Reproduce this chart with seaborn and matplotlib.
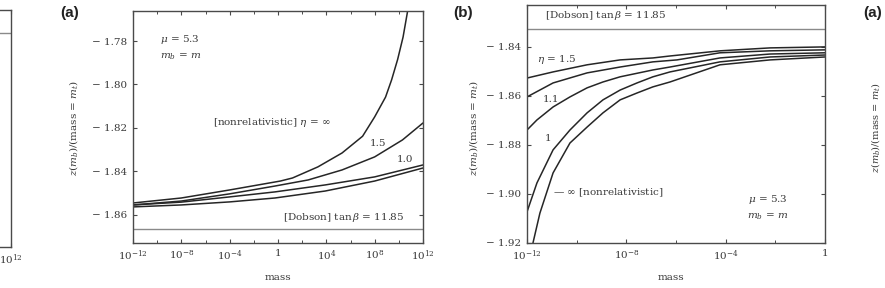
import numpy as np
import pandas as pd
import matplotlib
matplotlib.use("Agg")
import matplotlib.pyplot as plt
import seaborn as sns
from matplotlib.ticker import FixedLocator, FixedFormatter, NullFormatter

# ---------------- data: panel (a) ----------------
a_inf_logm = [-12, -8, -4, 0.2, 1.2, 3.3, 5.3, 7.0, 8.0, 8.9, 9.4, 9.9, 10.35, 10.7, 11.0]
a_inf_val = [-1.8545, -1.8522, -1.8485, -1.8444, -1.8430, -1.8379, -1.8315, -1.8238,
             -1.8149, -1.8058, -1.7979, -1.7885, -1.7782, -1.7671, -1.7550]
a_15_logm = [-12, -8, -4, -0.25, 2.5, 5.3, 8.0, 10.3, 12]
a_15_val = [-1.8554, -1.8536, -1.8503, -1.8467, -1.8439, -1.8393, -1.8333, -1.8255, -1.8177]
a_10_logm = [-12, -8, -4, -0.25, 3.9, 8.0, 12]
a_10_val = [-1.8554, -1.8541, -1.8517, -1.8494, -1.8462, -1.8425, -1.8370]
a_low_logm = [-12, -8, -4, -0.25, 3.9, 8.0, 12]
a_low_val = [-1.8563, -1.8554, -1.8540, -1.8522, -1.8490, -1.8444, -1.8384]
a_dobson = -1.8664

# ---------------- data: panel (b) ----------------
b_15_logm = [-12, -10.95, -9.58, -8.25, -6.93, -6.24, -4.23, -2.21, 0]
b_15_val = [-1.8527, -1.8502, -1.8473, -1.8453, -1.8445, -1.8437, -1.8416, -1.8404, -1.8400]
b_11_logm = [-12, -10.95, -9.58, -8.25, -6.93, -5.96, -4.23, -2.21, 0]
b_11_val = [-1.8604, -1.8547, -1.8506, -1.8482, -1.8461, -1.8453, -1.8424, -1.8416, -1.8412]
b_1_logm = [-12, -11.6, -10.95, -10.27, -9.58, -8.94, -8.25, -6.93, -6.24, -4.23, -2.21, 0]
b_1_val = [-1.8739, -1.8698, -1.8645, -1.8604, -1.8567, -1.8543, -1.8522, -1.8494,
           -1.8482, -1.8445, -1.8429, -1.8424]
b_x_logm = [-12, -11.6, -10.95, -10.27, -9.58, -8.94, -8.25, -7.57, -6.93, -6.24, -4.23, -2.21, 0]
b_x_val = [-1.9073, -1.8955, -1.8820, -1.8739, -1.8669, -1.8616, -1.8576, -1.8547,
           -1.8522, -1.8502, -1.8461, -1.8441, -1.8433]
b_inf_logm = [-11.76, -11.48, -10.95, -10.27, -9.58, -8.94, -8.25, -7.57, -6.93, -6.24, -4.23, -2.21, 0]
b_inf_val = [-1.9200, -1.9078, -1.8914, -1.8792, -1.8727, -1.8669, -1.8616, -1.8588,
             -1.8563, -1.8543, -1.8473, -1.8453, -1.8441]
b_dobson = -1.8327

# tick labels
a_xticks_exp = [-12, -8, -4, 0, 4, 8, 12]
a_xminor_exp = [-10, -6, -2, 2, 6, 10]
a_yticks = [-1.86, -1.84, -1.82, -1.80, -1.78]
b_xticks_exp = [-12, -8, -4, 0]
b_xminor_exp = [-10, -6, -2]
b_yticks = [-1.92, -1.90, -1.88, -1.86, -1.84]

sns.set_theme(style="ticks")
plt.rcParams['font.family'] = ['DejaVu Serif']
plt.rcParams['mathtext.fontset'] = 'dejavuserif'
plt.rcParams['axes.unicode_minus'] = True

W, H = 885, 288
fig = plt.figure(figsize=(W / 100, H / 100), dpi=100)

LINE = '#262626'
SPINE = '#4a4a4a'
TXT = '#3a3a3a'
FS = 7.5


def rect(x0, y0, x1, y1):
    return [x0 / W, 1 - y1 / H, (x1 - x0) / W, (y1 - y0) / H]


def ftext(x, y, s, **kw):
    kw.setdefault('fontsize', FS)
    kw.setdefault('color', TXT)
    kw.setdefault('va', 'center')
    kw.setdefault('ha', 'left')
    fig.text(x / W, 1 - y / H, s, **kw)


def style_ax(ax):
    for sp in ax.spines.values():
        sp.set_visible(True)
        sp.set_color(SPINE)
        sp.set_linewidth(1.0)
    ax.tick_params(which='both', direction='in', top=True, right=True,
                   colors=SPINE, labelcolor=TXT, labelsize=FS)
    ax.tick_params(axis='y', pad=4)
    ax.tick_params(axis='x', pad=4)
    ax.tick_params(which='major', length=3, width=0.8)
    ax.tick_params(which='minor', length=2, width=0.7)


def curve(ax, logm, val):
    df = pd.DataFrame({'mass': np.power(10.0, logm), 'val': val})
    sns.lineplot(data=df, x='mass', y='val', ax=ax, color=LINE, lw=1.1, sort=True)


def set_logx(ax, major, minor):
    ax.set_xscale('log')
    ax.xaxis.set_major_locator(FixedLocator([10.0 ** e for e in major]))
    ax.xaxis.set_major_formatter(FixedFormatter(['1' if e == 0 else r'$10^{%d}$' % e for e in major]))
    ax.xaxis.set_minor_locator(FixedLocator([10.0 ** e for e in minor]))
    ax.xaxis.set_minor_formatter(NullFormatter())


def set_y(ax, ticks):
    ax.yaxis.set_major_locator(FixedLocator(ticks))
    ax.yaxis.set_major_formatter(FixedFormatter(['\u2212 %.2f' % abs(t) for t in ticks]))


# ---------- left sliver (previous panel) ----------
ax0 = fig.add_axes(rect(-279, 10, 11, 247))
ax0.axhline(0.903, color='#8a8a8a', lw=1.0)
ax0.set_xlim(0, 1)
ax0.set_ylim(0, 1)
style_ax(ax0)
ax0.set_xticks([1.0])
ax0.set_xticklabels([r'$10^{12}$'])
ax0.set_yticks([])
ax0.set_xlabel('')
ax0.set_ylabel('')

# ---------- panel (a) ----------
axa = fig.add_axes(rect(133, 11, 423, 243))
curve(axa, a_low_logm, a_low_val)
curve(axa, a_10_logm, a_10_val)
curve(axa, a_15_logm, a_15_val)
curve(axa, a_inf_logm, a_inf_val)
axa.axhline(a_dobson, color='#8a8a8a', lw=1.0)
set_logx(axa, a_xticks_exp, a_xminor_exp)
axa.set_xlim(1e-12, 1e12)
axa.set_ylim(-1.8729, -1.7662)
set_y(axa, a_yticks)
style_ax(axa)
axa.set_xlabel('')
axa.set_ylabel('')

# ---------- panel (b) ----------
axb = fig.add_axes(rect(527, 5, 825, 243))
curve(axb, b_inf_logm, b_inf_val)
curve(axb, b_x_logm, b_x_val)
curve(axb, b_1_logm, b_1_val)
curve(axb, b_11_logm, b_11_val)
curve(axb, b_15_logm, b_15_val)
axb.axhline(b_dobson, color='#8a8a8a', lw=1.0)
set_logx(axb, b_xticks_exp, b_xminor_exp)
axb.set_xlim(1e-12, 1)
axb.set_ylim(-1.92, -1.8229)
set_y(axb, b_yticks)
style_ax(axb)
axb.set_xlabel('')
axb.set_ylabel('')

# ---------- texts ----------
ylab = r'$z$($m_b$)/(mass = $m_t$)'
PANEL = dict(fontsize=11, fontweight='bold', family=['Liberation Sans', 'DejaVu Sans'], color='#222222')

ftext(60, 13, '(a)', **PANEL)
ftext(453, 13, '(b)', **PANEL)
ftext(863, 13, '(a)', **PANEL)

ftext(73, 128, ylab, rotation=90, ha='center')
ftext(473, 128, ylab, rotation=90, ha='center')
ftext(876, 128, ylab, rotation=90, ha='center', fontsize=7)

ftext(278, 277, 'mass', ha='center')
ftext(671, 277, 'mass', ha='center')

# panel (a) annotations
ftext(160, 40, r'$\mu$ = 5.3')
ftext(160, 57, r'$m_b$ = $m$')
ftext(213, 123, r'[nonrelativistic] $\eta$ = $\infty$')
ftext(370, 143, '1.5')
ftext(397, 159, '1.0')
ftext(283, 218, r'[Dobson] $\tan\beta$ = 11.85')

# panel (b) annotations
ftext(545, 16, r'[Dobson] $\tan\beta$ = 11.85')
ftext(537, 59, r'$\eta$ = 1.5')
ftext(543, 100, '1.1')
ftext(545, 138, '1')
ftext(553, 193, r'— $\infty$ [nonrelativistic]')
ftext(748, 200, r'$\mu$ = 5.3')
ftext(747, 217, r'$m_b$ = $m$')

fig.savefig('out.png', dpi=100)
